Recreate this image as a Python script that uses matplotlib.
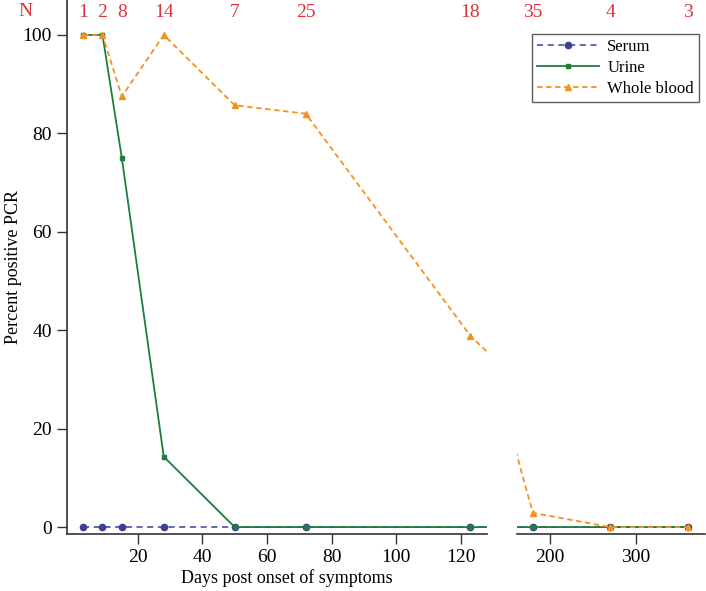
import numpy as np
import matplotlib.pyplot as plt
from matplotlib.lines import Line2D

plt.rcParams['font.family'] = ['Liberation Serif', 'DejaVu Serif']

days = [3, 9, 15, 28, 50, 72, 123, 180, 270, 360]
n_counts = ['1', '2', '8', '14', '7', '25', '18', '35', '4', '3']
serum = [0, 0, 0, 0, 0, 0, 0, 0, 0, 0]
urine = [100, 100, 75, 14.3, 0, 0, 0, 0, 0, 0]
whole_blood = [100, 100, 87.5, 100, 85.7, 84, 38.9, 2.9, 0, 0]

c_serum = '#3b3f99'
c_urine = '#1b7f3b'
c_blood = '#f5911e'
c_red = '#e0303b'
c_axis = '#333333'

fig = plt.figure(figsize=(7.06, 5.91), dpi=100)
ax1 = fig.add_axes([67/706, 57/591, 420/706, 534/591])
ax2 = fig.add_axes([517/706, 57/591, 188/706, 534/591])

for ax in (ax1, ax2):
    ax.plot(days, serum, ls=(0, (4, 3)), color=c_serum, lw=1.1, marker='o', ms=4.5, zorder=2)
    ax.plot(days, urine, ls='-', color=c_urine, lw=1.3, marker='s', ms=3.5, zorder=3)
    ax.plot(days, whole_blood, ls=(0, (3, 2)), color=c_blood, lw=1.3, marker='^', ms=4.5, zorder=4)
    ax.set_ylim(-1.4, 107.1)
    for s in ('top', 'right'):
        ax.spines[s].set_visible(False)
    ax.spines['bottom'].set_color(c_axis)
    ax.spines['bottom'].set_linewidth(1.2)
    ax.tick_params(axis='both', direction='out', length=7, width=1, color=c_axis, labelsize=14, pad=4)

ax1.set_xlim(-2, 128.2)
ax1.set_xticks([20, 40, 60, 80, 100, 120])
ax1.set_yticks([0, 20, 40, 60, 80, 100])
ax1.spines['left'].set_color(c_axis)
ax1.spines['left'].set_linewidth(1.2)

ax2.set_xlim(161.6, 380)
ax2.set_xticks([200, 300])
ax2.spines['left'].set_visible(False)
ax2.set_yticks([])

fig.text(14/706, 1 - 267/591, 'Percent positive PCR', rotation=90, ha='center', va='center', fontsize=13)
fig.text(287/706, 1 - 578/591, 'Days post onset of symptoms', ha='center', va='center', fontsize=13)

# N counts on top
for d, n in zip(days, n_counts):
    ax = ax1 if d < 130 else ax2
    ax.text(d, 104.6, n, ha='center', va='center', color=c_red, fontsize=14, clip_on=False)
fig.text(25/706, 1 - 12/591, 'N', ha='center', va='center', color=c_red, fontsize=14)

handles = [
    Line2D([], [], ls=(0, (4, 3)), color=c_serum, lw=1.1, marker='o', ms=4.5),
    Line2D([], [], ls='-', color=c_urine, lw=1.3, marker='s', ms=3.5),
    Line2D([], [], ls=(0, (3, 2)), color=c_blood, lw=1.3, marker='^', ms=4.5),
]
leg = fig.legend(handles, ['Serum', 'Urine', 'Whole blood'], loc='upper right',
                 bbox_to_anchor=(699/706, 1 - 34/591), fontsize=12, frameon=True,
                 fancybox=False, handlelength=3.7, borderpad=0.3, labelspacing=0.3,
                 handletextpad=0.5, borderaxespad=0)
leg.get_frame().set_edgecolor(c_axis)
leg.get_frame().set_linewidth(1.0)

fig.savefig('out.png', dpi=100)
